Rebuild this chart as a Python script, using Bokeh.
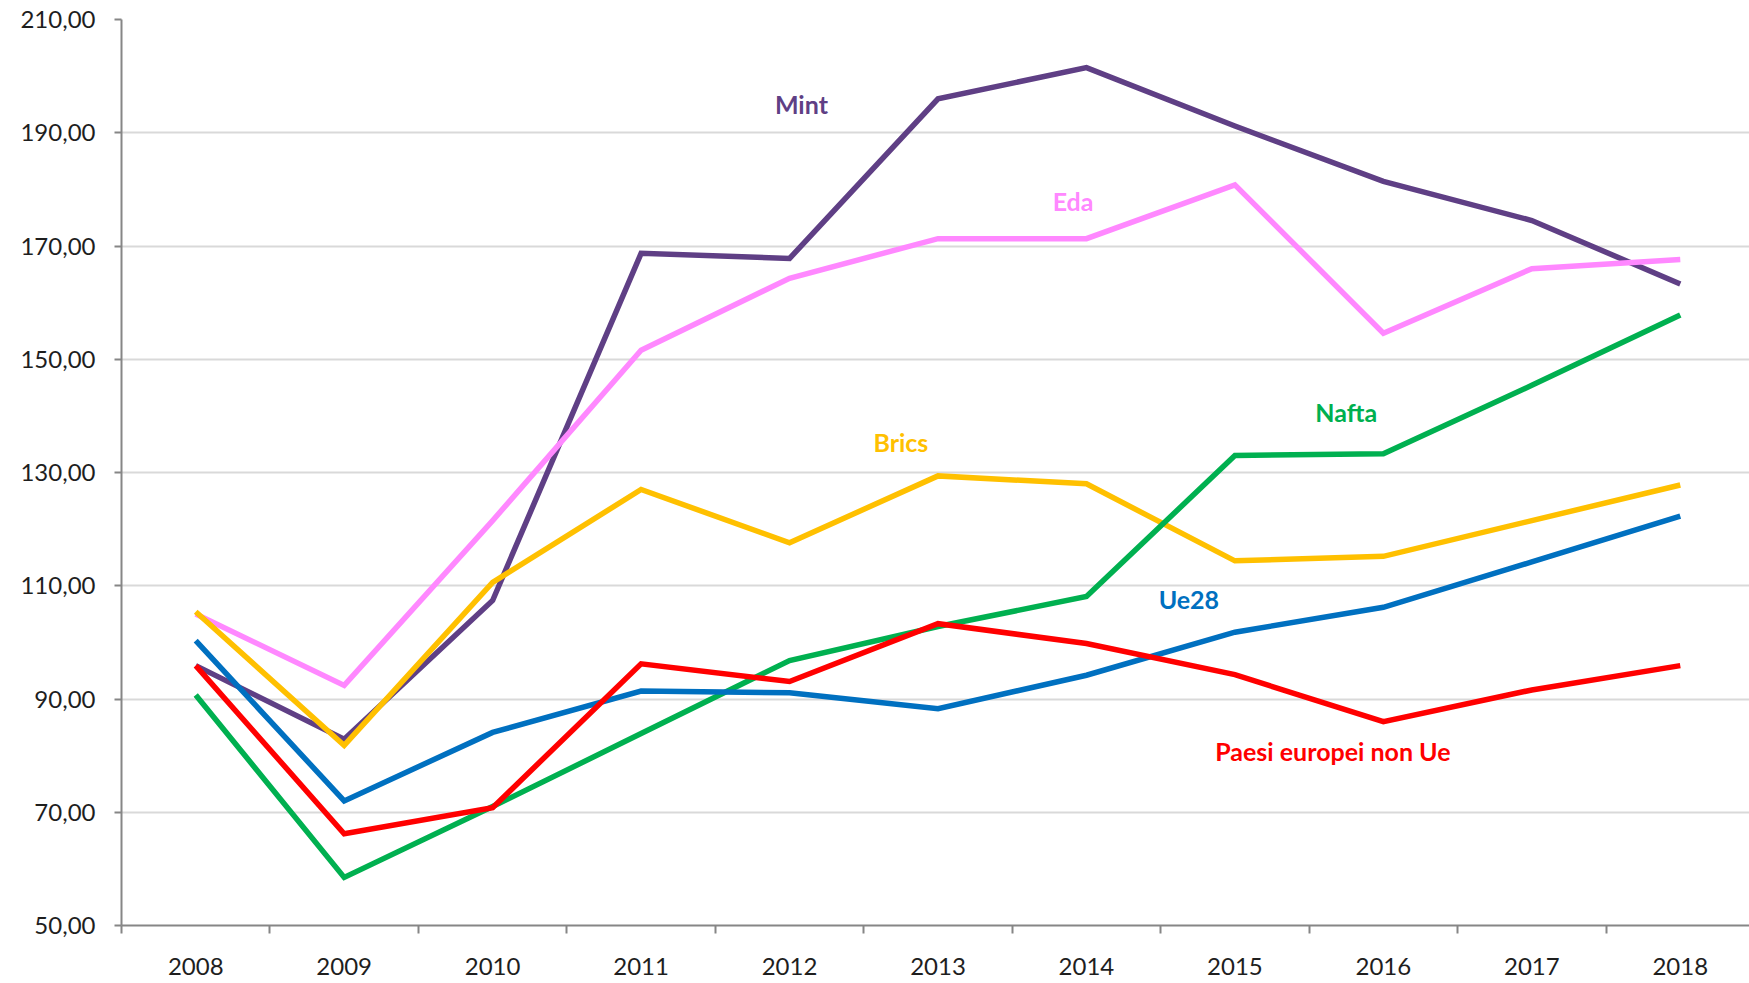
from bokeh.plotting import figure
from bokeh.models import FixedTicker, Range1d, ColumnDataSource
from bokeh.core.properties import value
from bokeh.embed import file_html
from bokeh.resources import INLINE

years = [2008, 2009, 2010, 2011, 2012, 2013, 2014, 2015, 2016, 2017, 2018]
mint = [95.9, 82.9, 107.4, 168.7, 167.8, 196.0, 201.5, 191.2, 181.4, 174.5, 163.3]
eda = [105.0, 92.4, 121.5, 151.6, 164.3, 171.3, 171.3, 180.8, 154.6, 166.0, 167.6]
brics = [105.4, 81.8, 110.6, 127.0, 117.6, 129.4, 128.0, 114.4, 115.2, 121.5, 127.8]
nafta = [90.7, 58.5, 71.0, 83.9, 96.8, 102.8, 108.1, 133.0, 133.3, 145.4, 157.8]
ue28 = [100.3, 72.0, 84.1, 91.4, 91.1, 88.3, 94.2, 101.8, 106.2, 114.2, 122.3]
paesi = [95.9, 66.2, 70.8, 96.2, 93.1, 103.3, 99.8, 94.3, 86.0, 91.6, 95.9]

series_names = ["Mint", "Eda", "Brics", "Nafta", "Ue28", "Paesi europei non Ue"]
series_values = [mint, eda, brics, nafta, ue28, paesi]
colors = ["#5F3F85", "#FF88FF", "#FFC000", "#00B050", "#0070C0", "#FF0000"]
label_x = [2012.08, 2013.91, 2012.75, 2015.75, 2014.69, 2015.66]
label_y = [195.0, 178.0, 135.3, 140.6, 107.7, 80.9]

y_ticks = [50, 70, 90, 110, 130, 150, 170, 190, 210]
y_tick_labels = {t: f"{t},00" for t in y_ticks}

p = figure(width=1749, height=983, output_backend="svg", toolbar_location=None,
           x_range=Range1d(2007.5, 2007.5 + 1628.5 / 148.5), y_range=Range1d(50, 210),
           min_border_left=121, min_border_right=0, min_border_top=19, min_border_bottom=58)
p.outline_line_color = None
p.background_fill_color = "white"

# grids
p.xgrid.grid_line_color = None
p.ygrid.grid_line_color = "#D9D9D9"
p.ygrid.grid_line_width = 2

# y axis
p.yaxis.ticker = FixedTicker(ticks=y_ticks)
p.yaxis.major_label_overrides = y_tick_labels
p.yaxis.axis_line_color = "#868686"
p.yaxis.axis_line_width = 2
p.yaxis.major_tick_line_color = "#868686"
p.yaxis.major_tick_line_width = 2
p.yaxis.major_tick_in = 0
p.yaxis.major_tick_out = 7
p.yaxis.minor_tick_line_color = None
p.yaxis.major_label_standoff = 19
p.yaxis.major_label_text_font = "Lato"
p.yaxis.major_label_text_font_size = "24px"
p.yaxis.major_label_text_color = "#1E1E1E"

# x axis
p.xaxis.ticker = FixedTicker(ticks=years, minor_ticks=[y - 0.5 for y in years] + [years[-1] + 0.5])
p.xaxis.axis_line_color = "#868686"
p.xaxis.axis_line_width = 2
p.xaxis.major_tick_line_color = None
p.xaxis.major_tick_in = 0
p.xaxis.major_tick_out = 8
p.xaxis.minor_tick_line_color = "#868686"
p.xaxis.minor_tick_line_width = 2
p.xaxis.minor_tick_in = 0
p.xaxis.minor_tick_out = 8
p.xaxis.major_label_standoff = 24
p.xaxis.major_label_text_font = "Lato"
p.xaxis.major_label_text_font_size = "24px"
p.xaxis.major_label_text_color = "#1E1E1E"

for name, vals, col in zip(series_names, series_values, colors):
    p.line(years, vals, line_color=col, line_width=5.5, line_join="miter")

src = ColumnDataSource(dict(x=label_x, y=label_y, t=series_names, c=colors))
p.text(x="x", y="y", text="t", text_color="c", source=src,
       text_font=value("Lato"), text_font_style="bold", text_font_size="25px",
       text_align="center", text_baseline="middle")

open("out.html", "w").write(file_html(p, INLINE))
